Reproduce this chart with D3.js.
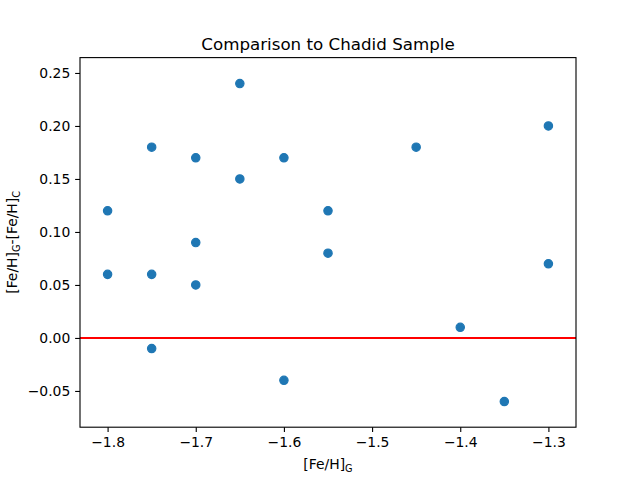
<!DOCTYPE html>
<html><head><meta charset="utf-8">
<script src="https://cdn.jsdelivr.net/npm/d3@7"></script>
<style>body{margin:0;background:#fff}text{font-family:"DejaVu Sans",sans-serif}</style>
</head><body><svg id="c" width="640" height="480"></svg>
<script>
const xVals = [-1.8, -1.8, -1.75, -1.75, -1.75, -1.7, -1.7, -1.7, -1.65, -1.65, -1.6, -1.6, -1.55, -1.55, -1.45, -1.4, -1.35, -1.3, -1.3];
const yVals = [0.12, 0.06, 0.18, 0.06, -0.01, 0.17, 0.09, 0.05, 0.24, 0.15, 0.17, -0.04, 0.12, 0.08, 0.18, 0.01, -0.06, 0.20, 0.07];
const xTicks = [-1.8, -1.7, -1.6, -1.5, -1.4, -1.3];
const yTicks = [-0.05, 0.00, 0.05, 0.10, 0.15, 0.20, 0.25];
const title = "Comparison to Chadid Sample";

const svg = d3.select("#c");
const L = 80, R = 576, T = 57.6, B = 427.2;
const x = d3.scaleLinear().domain([-1.8313, -1.2687]).range([L, R]);
const y = d3.scaleLinear().domain([-0.0842, 0.2645]).range([B, T]);

const fmtX = d => d3.format(".1f")(d).replace("-", "\u2212");
const fmtY = d => d3.format(".2f")(d).replace("-", "\u2212");

const xAxis = d3.axisBottom(x).tickValues(xTicks).tickFormat(fmtX).tickSize(4.86).tickPadding(4.86);
const yAxis = d3.axisLeft(y).tickValues(yTicks).tickFormat(fmtY).tickSize(4.86).tickPadding(4.86);

const gx = svg.append("g").attr("transform", `translate(0,${B})`).call(xAxis);
const gy = svg.append("g").attr("transform", `translate(${L},0)`).call(yAxis);
[gx, gy].forEach(g => {
  g.select(".domain").remove();
  g.selectAll(".tick line").attr("stroke", "#000").attr("stroke-width", 1.11);
  g.selectAll(".tick text").attr("fill", "#000").style("font-size", "13.9px").style("font-family", "DejaVu Sans");
});

// red horizontal line at 0
svg.append("line").attr("x1", L).attr("x2", R).attr("y1", y(0)).attr("y2", y(0))
  .attr("stroke", "red").attr("stroke-width", 2.08);

svg.append("g").selectAll("circle").data(xVals.map((v, i) => [v, yVals[i]])).join("circle")
  .attr("cx", d => x(d[0])).attr("cy", d => y(d[1])).attr("r", 4.17)
  .attr("fill", "#1f77b4").attr("stroke", "#1f77b4").attr("stroke-width", 1.2);

svg.append("rect").attr("x", L).attr("y", T).attr("width", R - L).attr("height", B - T)
  .attr("fill", "none").attr("stroke", "#000").attr("stroke-width", 1.11);

svg.append("text").attr("x", (L + R) / 2).attr("y", 49.5).attr("text-anchor", "middle")
  .style("font-size", "16.7px").text(title);

const xl = svg.append("text").attr("x", (L + R) / 2).attr("y", 469).attr("text-anchor", "middle").style("font-size", "13.9px");
xl.append("tspan").text("[Fe/H]");
xl.append("tspan").attr("dy", 3).style("font-size", "9.7px").text("G");

const yl = svg.append("text").attr("transform", `translate(17,${(T + B) / 2}) rotate(-90)`).attr("text-anchor", "middle").style("font-size", "13.9px");
yl.append("tspan").text("[Fe/H]");
yl.append("tspan").attr("dy", 3).style("font-size", "9.7px").text("G");
yl.append("tspan").attr("dy", -3).text("-[Fe/H]");
yl.append("tspan").attr("dy", 3).style("font-size", "9.7px").text("C");
</script></body></html>
